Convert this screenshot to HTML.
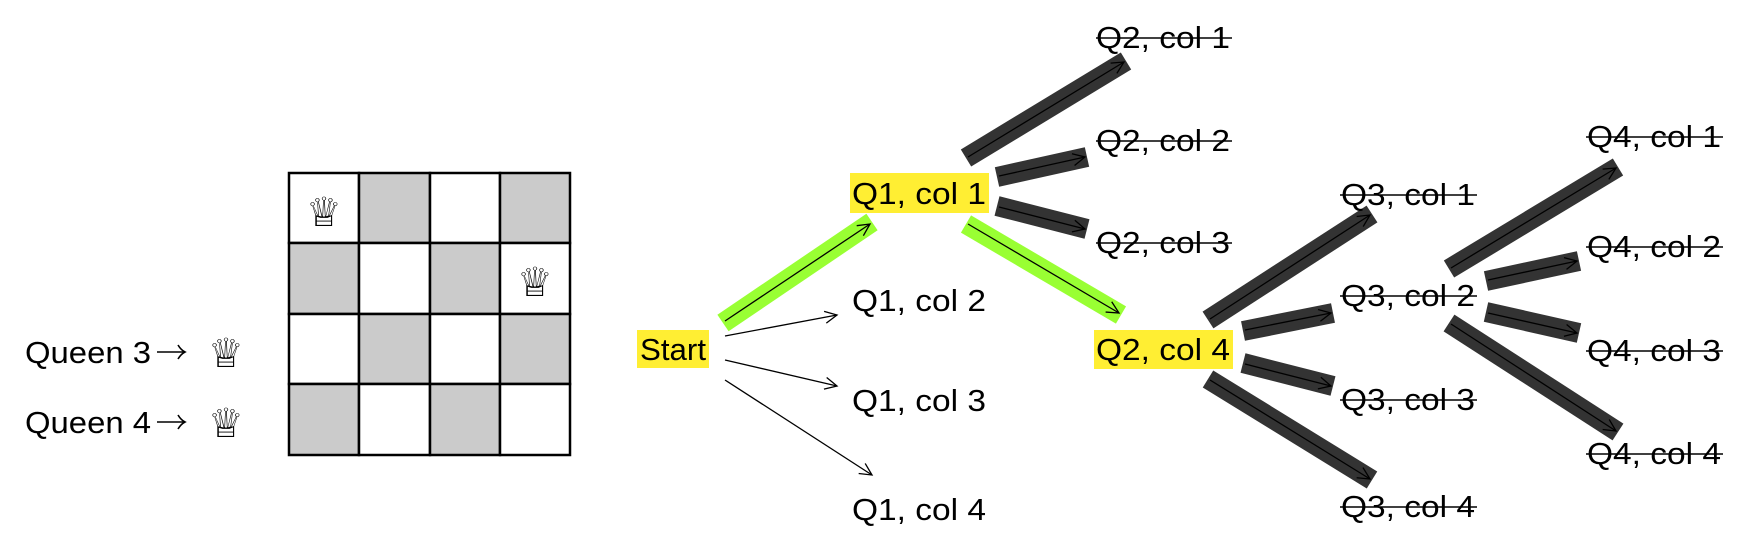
<!DOCTYPE html>
<html><head><meta charset="utf-8"><style>
html,body{margin:0;padding:0;background:#fff;}
svg{display:block;}
text{font-family:"Liberation Sans","DejaVu Sans",sans-serif;font-size:31px;fill:#000;}
.q{font-family:"DejaVu Sans",sans-serif;font-size:40px;}
</style></head><body>
<svg width="1754" height="560" viewBox="0 0 1754 560" xmlns="http://www.w3.org/2000/svg">
<defs>
<marker id="ah" markerUnits="userSpaceOnUse" markerWidth="20" markerHeight="20" refX="13" refY="7" orient="auto">
<path d="M1,1 L13,7 L1,13" fill="none" stroke="#000" stroke-width="1.3"/>
</marker>
</defs>
<!-- board -->
<g stroke="#000" stroke-width="2.5">
<rect x="289" y="173" width="70" height="70" fill="#fff"/><rect x="359" y="173" width="71" height="70" fill="#cbcbcb"/><rect x="430" y="173" width="70" height="70" fill="#fff"/><rect x="500" y="173" width="70" height="70" fill="#cbcbcb"/>
<rect x="289" y="243" width="70" height="71" fill="#cbcbcb"/><rect x="359" y="243" width="71" height="71" fill="#fff"/><rect x="430" y="243" width="70" height="71" fill="#cbcbcb"/><rect x="500" y="243" width="70" height="71" fill="#fff"/>
<rect x="289" y="314" width="70" height="70" fill="#fff"/><rect x="359" y="314" width="71" height="70" fill="#cbcbcb"/><rect x="430" y="314" width="70" height="70" fill="#fff"/><rect x="500" y="314" width="70" height="70" fill="#cbcbcb"/>
<rect x="289" y="384" width="70" height="71" fill="#cbcbcb"/><rect x="359" y="384" width="71" height="71" fill="#fff"/><rect x="430" y="384" width="70" height="71" fill="#cbcbcb"/><rect x="500" y="384" width="70" height="71" fill="#fff"/>
</g>
<text class="q" x="306" y="226">♕</text>
<text class="q" x="517" y="296">♕</text>
<text x="25" y="363" textLength="126" lengthAdjust="spacingAndGlyphs">Queen 3</text>
<text class="q" x="208" y="367">♕</text>
<text x="25" y="433" textLength="126" lengthAdjust="spacingAndGlyphs">Queen 4</text>
<text class="q" x="208" y="437">♕</text>
<g stroke="#000" stroke-width="1.6" fill="none">
<line x1="157" y1="352" x2="184" y2="352"/><path d="M178,345 Q181,350 185,352 Q181,354 178,359"/>
<line x1="157" y1="422" x2="184" y2="422"/><path d="M178,415 Q181,420 185,422 Q181,424 178,429"/>
</g>

<!-- bands -->
<g stroke-width="20" stroke-linecap="butt">
<line x1="723" y1="323" x2="872" y2="222" stroke="#99ff33"/>
<line x1="966" y1="224" x2="1121" y2="315" stroke="#99ff33"/>
</g>
<g stroke-width="20" stroke="#333" stroke-linecap="butt">
<line x1="966" y1="158" x2="1126" y2="61"/>
<line x1="997" y1="177" x2="1087" y2="157"/>
<line x1="997" y1="206" x2="1087" y2="229"/>
<line x1="1208" y1="320" x2="1372" y2="214"/>
<line x1="1243" y1="331" x2="1333" y2="313"/>
<line x1="1243" y1="363" x2="1333" y2="386"/>
<line x1="1208" y1="379" x2="1372" y2="480"/>
<line x1="1449" y1="269" x2="1618" y2="167"/>
<line x1="1486" y1="281" x2="1579" y2="261"/>
<line x1="1486" y1="312" x2="1579" y2="333"/>
<line x1="1449" y1="323" x2="1618" y2="432"/>
</g>
<!-- arrows -->
<g stroke="#000" stroke-width="1.3" marker-end="url(#ah)">
<line x1="725" y1="321" x2="870" y2="224"/>
<line x1="725" y1="336" x2="837" y2="315"/>
<line x1="725" y1="360" x2="837" y2="386"/>
<line x1="725" y1="380" x2="872" y2="475"/>
<line x1="968" y1="157" x2="1124" y2="62"/>
<line x1="999" y1="176" x2="1085" y2="157"/>
<line x1="999" y1="207" x2="1085" y2="229"/>
<line x1="968" y1="224" x2="1119" y2="313"/>
<line x1="1210" y1="319" x2="1370" y2="215"/>
<line x1="1245" y1="330" x2="1331" y2="313"/>
<line x1="1245" y1="364" x2="1331" y2="386"/>
<line x1="1210" y1="380" x2="1370" y2="479"/>
<line x1="1451" y1="268" x2="1616" y2="168"/>
<line x1="1488" y1="280" x2="1577" y2="261"/>
<line x1="1488" y1="313" x2="1577" y2="333"/>
<line x1="1451" y1="324" x2="1616" y2="431"/>
</g>

<!-- nodes -->
<rect x="637" y="330" width="72" height="38" fill="#ffee33"/>
<text x="640" y="360" textLength="66" lengthAdjust="spacingAndGlyphs">Start</text>
<rect x="850" y="173" width="139" height="40" fill="#ffee33"/>
<text x="852" y="204" textLength="134" lengthAdjust="spacingAndGlyphs">Q1, col 1</text>
<text x="852" y="311" textLength="134" lengthAdjust="spacingAndGlyphs">Q1, col 2</text>
<text x="852" y="411" textLength="134" lengthAdjust="spacingAndGlyphs">Q1, col 3</text>
<text x="852" y="520" textLength="134" lengthAdjust="spacingAndGlyphs">Q1, col 4</text>

<rect x="1094" y="330" width="139" height="39" fill="#ffee33"/>
<text x="1096" y="360" textLength="134" lengthAdjust="spacingAndGlyphs">Q2, col 4</text>
<g>
<text x="1096" y="48" textLength="134" lengthAdjust="spacingAndGlyphs">Q2, col 1</text>
<text x="1096" y="151" textLength="134" lengthAdjust="spacingAndGlyphs">Q2, col 2</text>
<text x="1096" y="253" textLength="134" lengthAdjust="spacingAndGlyphs">Q2, col 3</text>
<text x="1341" y="205" textLength="134" lengthAdjust="spacingAndGlyphs">Q3, col 1</text>
<text x="1341" y="306" textLength="134" lengthAdjust="spacingAndGlyphs">Q3, col 2</text>
<text x="1341" y="410" textLength="134" lengthAdjust="spacingAndGlyphs">Q3, col 3</text>
<text x="1341" y="517" textLength="134" lengthAdjust="spacingAndGlyphs">Q3, col 4</text>
<text x="1587" y="147" textLength="134" lengthAdjust="spacingAndGlyphs">Q4, col 1</text>
<text x="1587" y="257" textLength="134" lengthAdjust="spacingAndGlyphs">Q4, col 2</text>
<text x="1587" y="361" textLength="134" lengthAdjust="spacingAndGlyphs">Q4, col 3</text>
<text x="1587" y="464" textLength="134" lengthAdjust="spacingAndGlyphs">Q4, col 4</text>
</g>
<g stroke="#000" stroke-width="1.5">
<line x1="1096" y1="38" x2="1232" y2="38"/>
<line x1="1096" y1="141" x2="1232" y2="141"/>
<line x1="1096" y1="243" x2="1232" y2="243"/>
<line x1="1340" y1="195" x2="1477" y2="195"/>
<line x1="1340" y1="296" x2="1477" y2="296"/>
<line x1="1340" y1="400" x2="1477" y2="400"/>
<line x1="1340" y1="507" x2="1477" y2="507"/>
<line x1="1586" y1="137" x2="1723" y2="137"/>
<line x1="1586" y1="247" x2="1723" y2="247"/>
<line x1="1586" y1="351" x2="1723" y2="351"/>
<line x1="1586" y1="454" x2="1723" y2="454"/>
</g>
</svg>
</body></html>
